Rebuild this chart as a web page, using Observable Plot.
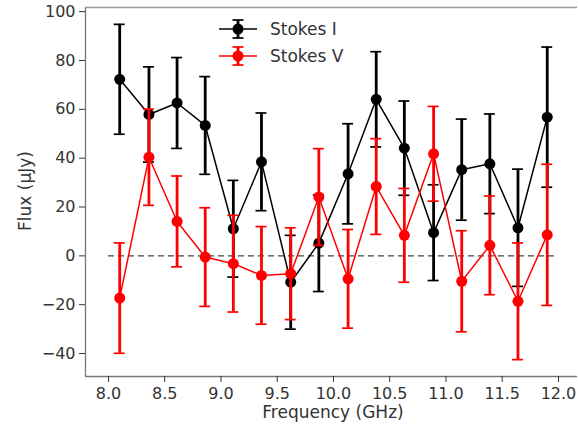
<!DOCTYPE html>
<html><head><meta charset="utf-8">
<script src="https://cdn.jsdelivr.net/npm/d3@7"></script>
<script src="https://cdn.jsdelivr.net/npm/@observablehq/plot@0.6"></script>
<style>
html,body{margin:0;padding:0;background:#fff;}
#chart{width:578px;height:427px;overflow:hidden;}
</style></head><body><div id="chart"></div>
<script>
const freq = [8.10, 8.36, 8.61, 8.86, 9.11, 9.36, 9.62, 9.87, 10.13, 10.38, 10.63, 10.89, 11.14, 11.39, 11.64, 11.90];
const stokesI = [72.3, 57.9, 62.6, 53.4, 11.1, 38.5, -10.8, 5.2, 33.6, 64.1, 44.1, 9.5, 35.3, 37.7, 11.5, 56.8];
const errI = [22.5, 19.5, 18.6, 20.0, 19.8, 20.0, 19.2, 19.8, 20.5, 19.5, 19.3, 19.6, 20.7, 20.4, 24.0, 28.7];
const stokesV = [-17.3, 40.4, 14.1, -0.5, -3.2, -8.0, -7.3, 24.1, -9.4, 28.4, 8.4, 41.8, -10.4, 4.3, -18.6, 8.6];
const errV = [22.6, 19.7, 18.6, 20.2, 19.8, 20.0, 18.8, 19.8, 20.2, 19.6, 19.2, 19.4, 20.7, 20.2, 23.9, 28.9];
const xTicks = [8.0, 8.5, 9.0, 9.5, 10.0, 10.5, 11.0, 11.5, 12.0];
const yTicks = [-40, -20, 0, 20, 40, 60, 80, 100];
const seriesNames = ["Stokes I", "Stokes V"];
const seriesColors = ["#000000", "#ff0000"];
const xLabel = "Frequency (GHz)";
const yLabel = "Flux (\u03bcJy)";

const xDomain = [7.796, 12.169];
const yDomain = [-49.4, 101.7];

const rowsI = freq.map((f, i) => ({f, v: stokesI[i], e: errI[i]}));
const rowsV = freq.map((f, i) => ({f, v: stokesV[i], e: errV[i]}));

function seriesMarks(rows, color) {
  return [
    Plot.ruleX(rows, {x: "f", y1: d => d.v - d.e, y2: d => d.v + d.e, stroke: color, strokeWidth: 2.8}),
    Plot.ruleY(rows, {y: d => d.v - d.e, x1: "f", x2: "f", insetLeft: -5.5, insetRight: -5.5, stroke: color, strokeWidth: 1.7}),
    Plot.ruleY(rows, {y: d => d.v + d.e, x1: "f", x2: "f", insetLeft: -5.5, insetRight: -5.5, stroke: color, strokeWidth: 1.7}),
    Plot.line(rows, {x: "f", y: "v", stroke: color, strokeWidth: 1.5}),
    Plot.dot(rows, {x: "f", y: "v", r: 5.5, fill: color, stroke: "none"})
  ];
}

const fmtY = d => d < 0 ? "\u2212" + Math.abs(d) : String(d);

const plot = Plot.plot({
  width: 578, height: 427,
  marginLeft: 85, marginRight: 1, marginTop: 7, marginBottom: 51,
  style: {fontFamily: "DejaVu Sans", fontSize: "16px", color: "#333", background: "#fff"},
  x: {domain: xDomain, range: [85, 577]},
  y: {domain: yDomain},
  marks: [
    Plot.ruleY([0], {x1: xTicks[0], x2: xTicks[xTicks.length - 1], stroke: "#444", strokeWidth: 1.2, strokeDasharray: "6,4"}),
    ...seriesMarks(rowsI, seriesColors[0]),
    ...seriesMarks(rowsV, seriesColors[1]),
    Plot.ruleX([xDomain[0]], {stroke: "#777", strokeWidth: 1.3}),
    Plot.ruleY([yDomain[0]], {stroke: "#777", strokeWidth: 1.3}),
    Plot.ruleY([yDomain[1]], {stroke: "#999", strokeWidth: 1.3}),
    Plot.axisX({ticks: xTicks, tickFormat: d => d.toFixed(1), tickSize: 6, tickPadding: 5, label: null, fontSize: 16}),
    Plot.axisY({ticks: yTicks, tickFormat: fmtY, tickSize: 6, tickPadding: 4, label: null, fontSize: 16})
  ]
});

document.getElementById("chart").appendChild(plot);
const svg = d3.select(plot);

svg.append("text").attr("x", 333).attr("y", 418).attr("text-anchor", "middle")
  .attr("font-family", "DejaVu Sans").attr("font-size", 17).attr("fill", "#333").text(xLabel);
svg.append("text").attr("transform", "translate(31,191) rotate(-90)").attr("text-anchor", "middle")
  .attr("font-family", "DejaVu Sans").attr("font-size", 17).attr("fill", "#333").text(yLabel);

// legend
const leg = svg.append("g");
seriesNames.forEach((name, i) => {
  const cy = 29 + i * 27;
  const c = seriesColors[i];
  const g = leg.append("g");
  g.append("line").attr("x1", 219).attr("x2", 257).attr("y1", cy).attr("y2", cy).attr("stroke", c).attr("stroke-width", 1.5);
  g.append("line").attr("x1", 238).attr("x2", 238).attr("y1", cy - 9).attr("y2", cy + 9).attr("stroke", c).attr("stroke-width", 2.8);
  g.append("line").attr("x1", 232.5).attr("x2", 243.5).attr("y1", cy - 9).attr("y2", cy - 9).attr("stroke", c).attr("stroke-width", 1.7);
  g.append("line").attr("x1", 232.5).attr("x2", 243.5).attr("y1", cy + 9).attr("y2", cy + 9).attr("stroke", c).attr("stroke-width", 1.7);
  g.append("circle").attr("cx", 238).attr("cy", cy).attr("r", 5.5).attr("fill", c);
  g.append("text").attr("x", 270).attr("y", cy).attr("dy", "0.36em").attr("text-anchor", "start")
    .attr("font-family", "DejaVu Sans").attr("font-size", 17).attr("fill", "#333").text(name);
});
</script>
</body></html>
